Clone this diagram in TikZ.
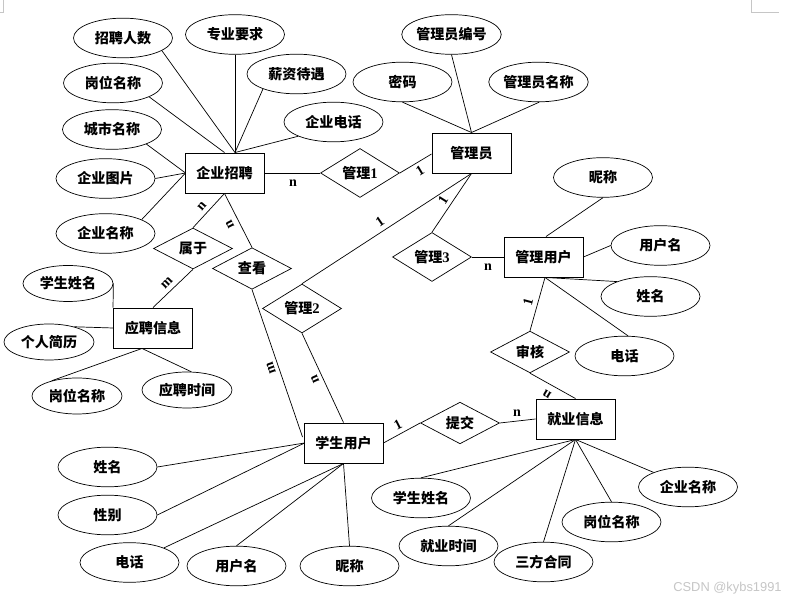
\documentclass[tikz,border=0pt]{standalone}
\usepackage{fontspec}
\setmainfont{Liberation Serif}
\setsansfont{Liberation Sans}
\newfontfamily\cjk{Noto Sans CJK SC}
\usetikzlibrary{shapes.geometric,calc}
\begin{document}
\begin{tikzpicture}[x=0.03cm,y=-0.03cm,
  cjkfont/.style={font={\cjk\bfseries\fontsize{12}{14}\selectfont}},
  attr/.style={ellipse, draw, line width=0.6pt, minimum width=2.97cm, minimum height=1.19cm, inner sep=0pt, cjkfont},
  sattr/.style={attr, minimum width=2.7cm, minimum height=1.08cm},
  ent/.style={rectangle, draw, line width=0.8pt, minimum width=2.37cm, minimum height=1.2cm, inner sep=0pt, cjkfont},
  rel/.style={diamond, draw, line width=0.6pt, minimum width=2.37cm, minimum height=1.17cm, inner sep=0pt, cjkfont},
  card/.style={font={\bfseries\fontsize{12}{14}\selectfont}, inner sep=0pt},
  ln/.style={line width=0.6pt},
  cornermark/.style={draw=gray!45, line width=0.5pt}
]
\useasboundingbox (0,0) rectangle (798,601);
\fill[white] (0,0) rectangle (798,601);
% page corner marks
\draw[cornermark] (0,12) -- (3,12) -- (3,0);
\draw[cornermark] (751,0) -- (751,12) -- (779,12);

% entities
\node[ent] (qz) at (224.5,173) {企业招聘};
\node[ent] (gly) at (471.5,153) {管理员};
\node[ent] (glyh) at (543.5,257) {管理用户};
\node[ent] (ypxx) at (153,328) {应聘信息};
\node[ent] (xs) at (343.5,443) {学生用户};
\node[ent] (jy) at (575.5,419) {就业信息};

% relationships
\node[rel] (m1) at (360,173) {管理{\fontsize{12.5}{14}\textrm{1}}};
\node[rel] (sy) at (193,248.5) {属于};
\node[rel] (ck) at (252,268.5) {查看};
\node[rel] (m2) at (302,308.5) {管理{\fontsize{12.5}{14}\textrm{2}}};
\node[rel] (m3) at (432,257) {管理{\fontsize{12.5}{14}\textrm{3}}};
\node[rel] (sh) at (530,352) {审核};
\node[rel] (tj) at (460,423) {提交};

% attributes
\node[attr] (a1) at (123,38) {招聘人数};
\node[attr] (a2) at (235,34.5) {专业要求};
\node[attr] (a3) at (113,83) {岗位名称};
\node[attr] (a4) at (296.5,74) {薪资待遇};
\node[attr] (a5) at (112,129.5) {城市名称};
\node[attr] (a6) at (333.5,122) {企业电话};
\node[attr] (a7) at (105.5,178.5) {企业图片};
\node[attr] (a8) at (105.5,233.5) {企业名称};
\node[attr] (b1) at (451.5,34.5) {管理员编号};
\node[attr] (b2) at (402.5,82) {密码};
\node[attr] (b3) at (538.5,82) {管理员名称};
\node[attr] (c1) at (603,177.5) {昵称};
\node[attr] (c2) at (660.5,245.5) {用户名};
\node[attr] (c3) at (650.5,296.5) {姓名};
\node[attr] (c4) at (624.5,356) {电话};
\node[sattr] (d1) at (68,283.5) {学生姓名};
\node[sattr] (d2) at (49,342) {个人简历};
\node[sattr] (d3) at (77,396) {岗位名称};
\node[sattr] (d4) at (187,390) {应聘时间};
\node[attr] (e1) at (107.5,467) {姓名};
\node[attr] (e2) at (107.5,515) {性别};
\node[attr] (e3) at (129.5,562.5) {电话};
\node[attr] (e4) at (236.5,566) {用户名};
\node[attr] (e5) at (349.5,566) {昵称};
\node[attr] (f1) at (421,498) {学生姓名};
\node[attr] (f2) at (448.5,546) {就业时间};
\node[attr] (f3) at (543.5,562) {三方合同};
\node[attr] (f4) at (611.5,522) {岗位名称};
\node[attr] (f5) at (688,487) {企业名称};

% connection points on entities
\coordinate (qzT) at ($(qz.north)+(10.5,0)$);
\coordinate (qzL) at ($(qz.west)+(1,0)$);
\coordinate (glyhT) at ($(glyh.north)+(2.5,0)$);
\coordinate (glyhB) at ($(glyh.south)+(1.5,0)$);
\coordinate (ypB) at ($(ypxx.south)+(-11,0)$);
\coordinate (xsL) at ($(xs.west)+(1,0)$);
\coordinate (xsLu) at ($(xs.west)+(-1,-6)$);
\coordinate (glyL) at ($(gly.west)+(0,1)$);

% attribute lines
\draw[ln] (a1.-18) -- (qzT);
\draw[ln] (a2.south) -- (qzT);
\draw[ln] (a3.-21) -- (qz.north);
\draw[ln] (a4.-156) -- (qzT);
\draw[ln] (a6.-158) -- (qzT);
\draw[ln] (a5.-23) -- (qzL);
\draw[ln] (a7.east) -- (qzL);
\draw[ln] (a8.21) -- (qzL);
\draw[ln] (b1.south) -- (gly.north);
\draw[ln] (b2.south) -- (gly.north);
\draw[ln] (b3.-88) -- (gly.north);
\draw[ln] (c1.south) -- (glyhT);
\draw[ln] (c2.west) -- (glyh.east);
\draw[ln] (c3.156) -- (glyhB);
\draw[ln] (c4.80) -- (glyhB);
\draw[ln] (d1.east) -- (ypxx.north west);
\draw[ln] (d2.31) -- (ypxx.west);
\draw[ln] (d3.149) -- (ypB);
\draw[ln] (d4.77) -- (ypB);
\draw[ln] (e1.east) -- (xsL);
\draw[ln] (e2.east) -- (xsL);
\draw[ln] (e3.23) -- (xs.south);
\draw[ln] (e4.north) -- (xs.south);
\draw[ln] (e5.north) -- (xs.south);
\draw[ln] (f1.north) -- (jy.south);
\draw[ln] (f2.north) -- (jy.south);
\draw[ln] (f3.north) -- (jy.south);
\draw[ln] (f4.north) -- (jy.south);
\draw[ln] (f5.157) -- (jy.south);

% relationship lines
\draw[ln] (qz.east) -- (m1.west);
\draw[ln] (m1.east) -- (glyL);
\draw[ln] (gly.south) -- (m2.north);
\draw[ln] (gly.south) -- (m3.north);
\draw[ln] (m3.east) -- (glyh.west);
\draw[ln] (glyhB) -- (sh.north);
\draw[ln] (sh.south) -- (jy.north);
\draw[ln] (xs.east) -- (tj.west);
\draw[ln] (tj.east) -- (jy.west);
\draw[ln] (qz.south) -- (sy.north);
\draw[ln] (qz.south) -- (ck.north);
\draw[ln] (sy.south) -- (ypxx.north);
\draw[ln] (ck.south) -- (xsLu);
\draw[ln] (m2.south) -- (xs.north);

% cardinalities
\node[card] (k1) at (293,183) {n};
\node[card, rotate=31] (k2) at (420,171) {1};
\node[card, rotate=34.5] (k3) at (380,222) {1};
\node[card, rotate=58] (k4) at (443,200) {1};
\node[card] (k5) at (488,267) {n};
\node[card, rotate=75] (k6) at (528,302) {1};
\node[card, rotate=149] (k7) at (547,394) {n};
\node[card, rotate=27] (k8) at (398,425) {1};
\node[card] (k9) at (517,413) {n};
\node[card, rotate=49] (k10) at (202,206) {n};
\node[card, rotate=117] (k11) at (230,225) {n};
\node[card, rotate=45] (k12) at (167,283) {m};
\node[card, rotate=109] (k13) at (271,368) {m};
\node[card, rotate=114] (k14) at (315,379) {n};

% watermark
\node[font={\sffamily\fontsize{11}{13}\selectfont}, text=gray!45, inner sep=0pt] (wm) at (727.5,588) {CSDN @kybs1991};
\end{tikzpicture}
\end{document}
